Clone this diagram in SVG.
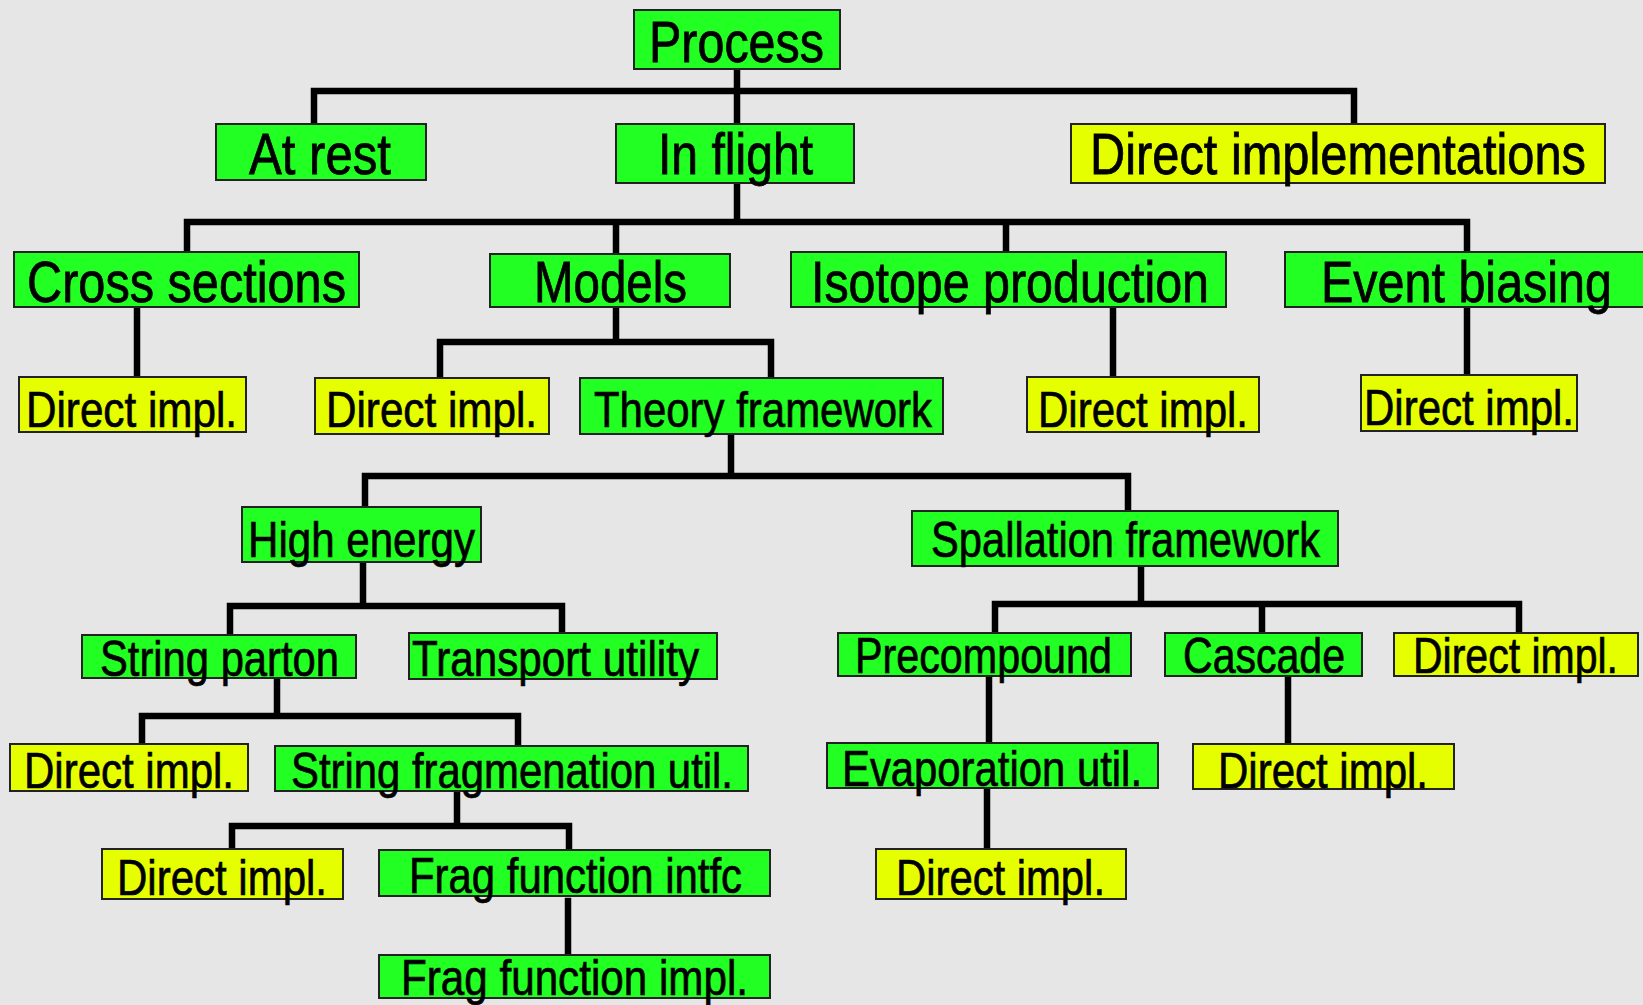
<svg xmlns="http://www.w3.org/2000/svg" width="1643" height="1005" viewBox="0 0 1643 1005">
<style>
.g{fill:#22ff22;stroke:#222;stroke-width:2}
.y{fill:#e6ff00;stroke:#222;stroke-width:2}
.t1{font-family:"Liberation Sans",Arial,sans-serif;font-size:58px;fill:#000;stroke:#000;stroke-width:0.8}
.t2{font-family:"Liberation Sans",Arial,sans-serif;font-size:50px;fill:#000;stroke:#000;stroke-width:0.7}
.c{fill:none;stroke:#000;stroke-width:6.5;stroke-linecap:square;stroke-linejoin:miter}
</style>
<rect width="1643" height="1005" fill="#e6e6e6"/>
<g id="connectors" class="c">
<path d="M737 73V124M314 124V91H1354V124"/>
<path d="M737 187V222M187 252V222H1467V252M616 222V254M1006 222V254"/>
<path d="M137 307V377"/>
<path d="M616 307V342M440 378V342H771V378"/>
<path d="M1113 307V377"/>
<path d="M1467 307V375"/>
<path d="M731 434V476M365 507V476H1128V511"/>
<path d="M363 564V606M230 635V606H562V633"/>
<path d="M1141 566V604M995 633V604H1519V633M1262 604V633"/>
<path d="M277 679V716M142 744V716H518V746"/>
<path d="M457 791V826M232 849V826H569V850"/>
<path d="M568 901V955"/>
<path d="M989 677V743"/>
<path d="M987 789V849"/>
<path d="M1288 677V744"/>
</g>
<g id="process"><rect class="g" x="634" y="10" width="206" height="59"/><text class="t1" x="649" y="62" textLength="175" lengthAdjust="spacingAndGlyphs">Process</text></g>
<g id="at-rest"><rect class="g" x="216" y="124" width="210" height="56"/><text class="t1" x="249" y="174" textLength="142" lengthAdjust="spacingAndGlyphs">At rest</text></g>
<g id="in-flight"><rect class="g" x="616" y="124" width="238" height="59"/><text class="t1" x="658" y="174" textLength="155" lengthAdjust="spacingAndGlyphs">In flight</text></g>
<g id="direct-implementations"><rect class="y" x="1071" y="124" width="534" height="59"/><text class="t1" x="1090" y="174" textLength="496" lengthAdjust="spacingAndGlyphs">Direct implementations</text></g>
<g id="cross-sections"><rect class="g" x="14" y="252" width="345" height="55"/><text class="t1" x="27" y="302" textLength="319" lengthAdjust="spacingAndGlyphs">Cross sections</text></g>
<g id="models"><rect class="g" x="490" y="254" width="240" height="53"/><text class="t1" x="534" y="302" textLength="153" lengthAdjust="spacingAndGlyphs">Models</text></g>
<g id="isotope-production"><rect class="g" x="791" y="252" width="435" height="55"/><text class="t1" x="811" y="302" textLength="398" lengthAdjust="spacingAndGlyphs">Isotope production</text></g>
<g id="event-biasing"><rect class="g" x="1285" y="252" width="362" height="55"/><text class="t1" x="1321" y="302" textLength="291" lengthAdjust="spacingAndGlyphs">Event biasing</text></g>
<g id="cs-direct"><rect class="y" x="19" y="377" width="227" height="55"/><text class="t2" x="26" y="427" textLength="211" lengthAdjust="spacingAndGlyphs">Direct impl.</text></g>
<g id="models-direct"><rect class="y" x="315" y="378" width="234" height="56"/><text class="t2" x="326" y="427" textLength="211" lengthAdjust="spacingAndGlyphs">Direct impl.</text></g>
<g id="theory-framework"><rect class="g" x="580" y="378" width="363" height="56"/><text class="t2" x="594" y="427" textLength="338" lengthAdjust="spacingAndGlyphs">Theory framework</text></g>
<g id="iso-direct"><rect class="y" x="1027" y="377" width="232" height="55"/><text class="t2" x="1038" y="427" textLength="210" lengthAdjust="spacingAndGlyphs">Direct impl.</text></g>
<g id="eb-direct"><rect class="y" x="1361" y="375" width="216" height="56"/><text class="t2" x="1364" y="425" textLength="210" lengthAdjust="spacingAndGlyphs">Direct impl.</text></g>
<g id="high-energy"><rect class="g" x="242" y="507" width="239" height="55"/><text class="t2" x="248" y="557" textLength="227" lengthAdjust="spacingAndGlyphs">High energy</text></g>
<g id="spallation-framework"><rect class="g" x="912" y="511" width="426" height="55"/><text class="t2" x="931" y="557" textLength="389" lengthAdjust="spacingAndGlyphs">Spallation framework</text></g>
<g id="string-parton"><rect class="g" x="82" y="635" width="274" height="43"/><text class="t2" x="100" y="676" textLength="239" lengthAdjust="spacingAndGlyphs">String parton</text></g>
<g id="transport-utility"><rect class="g" x="409" y="633" width="308" height="46"/><text class="t2" x="412" y="676" textLength="287" lengthAdjust="spacingAndGlyphs">Transport utility</text></g>
<g id="precompound"><rect class="g" x="838" y="633" width="293" height="43"/><text class="t2" x="855" y="673" textLength="257" lengthAdjust="spacingAndGlyphs">Precompound</text></g>
<g id="cascade"><rect class="g" x="1165" y="633" width="197" height="43"/><text class="t2" x="1183" y="673" textLength="162" lengthAdjust="spacingAndGlyphs">Cascade</text></g>
<g id="spall-direct"><rect class="y" x="1394" y="633" width="244" height="43"/><text class="t2" x="1413" y="673" textLength="205" lengthAdjust="spacingAndGlyphs">Direct impl.</text></g>
<g id="sp-direct"><rect class="y" x="10" y="744" width="238" height="47"/><text class="t2" x="24" y="788" textLength="210" lengthAdjust="spacingAndGlyphs">Direct impl.</text></g>
<g id="string-frag-util"><rect class="g" x="275" y="746" width="473" height="45"/><text class="t2" x="291" y="788" textLength="442" lengthAdjust="spacingAndGlyphs">String fragmenation util.</text></g>
<g id="evaporation-util"><rect class="g" x="827" y="743" width="331" height="45"/><text class="t2" x="842" y="786" textLength="300" lengthAdjust="spacingAndGlyphs">Evaporation util.</text></g>
<g id="cascade-direct"><rect class="y" x="1193" y="744" width="261" height="45"/><text class="t2" x="1218" y="788" textLength="210" lengthAdjust="spacingAndGlyphs">Direct impl.</text></g>
<g id="sfu-direct"><rect class="y" x="102" y="849" width="241" height="50"/><text class="t2" x="117" y="895" textLength="210" lengthAdjust="spacingAndGlyphs">Direct impl.</text></g>
<g id="frag-function-intfc"><rect class="g" x="379" y="850" width="391" height="46"/><text class="t2" x="409" y="893" textLength="333" lengthAdjust="spacingAndGlyphs">Frag function intfc</text></g>
<g id="evap-direct"><rect class="y" x="876" y="849" width="250" height="50"/><text class="t2" x="896" y="895" textLength="209" lengthAdjust="spacingAndGlyphs">Direct impl.</text></g>
<g id="frag-function-impl"><rect class="g" x="379" y="955" width="391" height="43"/><text class="t2" x="401" y="995" textLength="347" lengthAdjust="spacingAndGlyphs">Frag function impl.</text></g>
</svg>
